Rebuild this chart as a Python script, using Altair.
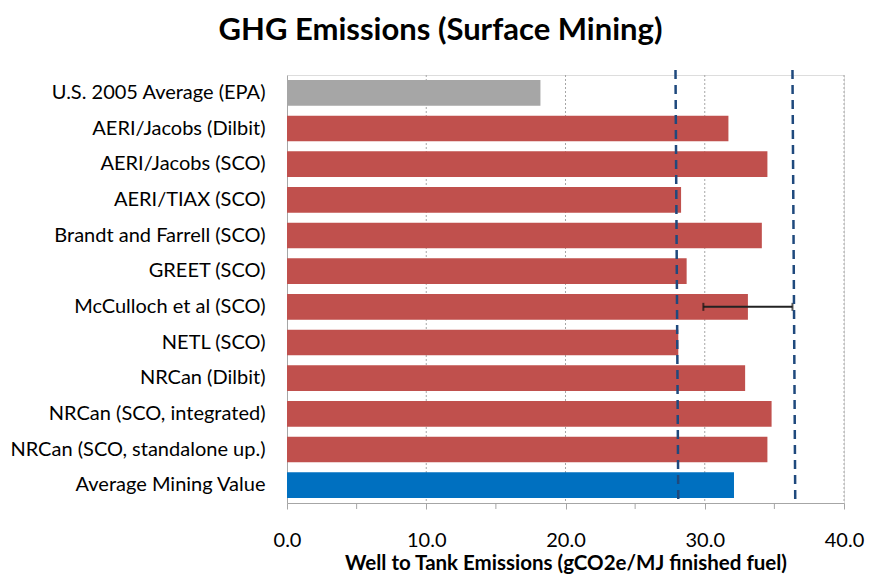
import altair as alt
import pandas as pd

categories = [
    "U.S. 2005 Average (EPA)",
    "AERI/Jacobs (Dilbit)",
    "AERI/Jacobs (SCO)",
    "AERI/TIAX (SCO)",
    "Brandt and Farrell (SCO)",
    "GREET (SCO)",
    "McCulloch et al (SCO)",
    "NETL (SCO)",
    "NRCan (Dilbit)",
    "NRCan (SCO, integrated)",
    "NRCan (SCO, standalone up.)",
    "Average Mining Value",
]
values = [18.2, 31.7, 34.5, 28.3, 34.1, 28.7, 33.1, 28.1, 32.9, 34.8, 34.5, 32.1]
groups = ["base", "study", "study", "study", "study", "study", "study", "study",
          "study", "study", "study", "avg"]

err_category = "McCulloch et al (SCO)"
err_low = 29.9
err_high = 36.3

range_top = [27.9, 36.3]
range_bottom = [28.1, 36.5]

grid_values = [10, 20, 30, 40]
major_ticks = [0, 10, 20, 30, 40]
minor_ticks = [5, 15, 25, 35]

df = pd.DataFrame({"cat": categories, "val": values, "grp": groups})
err_df = pd.DataFrame({"cat": [err_category], "lo": [err_low], "hi": [err_high]})
range_df = pd.DataFrame({"top": range_top, "bottom": range_bottom})
grid_df = pd.DataFrame({"g": grid_values})
minor_df = pd.DataFrame({"m": minor_ticks})

W, H = 557, 428
FONT = "Lato"

xscale = alt.Scale(domain=[0, 40], nice=False, zero=True)
yscale = alt.Scale(paddingInner=0.28, paddingOuter=0.14)
yenc = alt.Y("cat:N", sort=categories, title=None, scale=yscale)

grid = alt.Chart(grid_df).mark_rule(color="#A6A6A6", strokeDash=[2, 2], strokeWidth=1).encode(
    x=alt.X("g:Q", scale=xscale),
    y=alt.value(0),
    y2=alt.value(H),
)

minor = alt.Chart(minor_df).mark_rule(color="#A6A6A6", strokeWidth=1).encode(
    x=alt.X("m:Q", scale=xscale),
    y=alt.value(H),
    y2=alt.value(H + 6),
)

bars = alt.Chart(df).mark_bar().encode(
    x=alt.X("val:Q", scale=xscale,
            axis=alt.Axis(values=major_ticks, format=".1f",
                          grid=False, domainColor="#A6A6A6", tickColor="#A6A6A6",
                          tickSize=6, labelFontSize=20, labelColor="#000000",
                          labelFont=FONT, labelPadding=21, labelFlush=False,
                          title="Well  to Tank Emissions (gCO2e/MJ finished fuel)",
                          titleFont=FONT, titleFontSize=20.5, titleFontWeight="bold",
                          titleColor="#000000", titlePadding=3)),
    y=alt.Y("cat:N", sort=categories, title=None, scale=yscale,
            axis=alt.Axis(domainColor="#A6A6A6", ticks=False, labelFontSize=20,
                          labelFont=FONT, labelColor="#000000", labelPadding=22,
                          labelLimit=400)),
    color=alt.Color("grp:N", scale=alt.Scale(domain=["base", "study", "avg"],
                                            range=["#A6A6A6", "#C0504D", "#0070C0"]),
                    legend=None),
)

err_line = alt.Chart(err_df).mark_rule(color="#222222", strokeWidth=2).encode(
    x=alt.X("lo:Q", scale=xscale), x2="hi:Q", y=yenc
)
err_caps_lo = alt.Chart(err_df).mark_tick(color="#111111", thickness=2, size=8, orient="vertical").encode(
    x=alt.X("lo:Q", scale=xscale), y=yenc
)
err_caps_hi = alt.Chart(err_df).mark_tick(color="#111111", thickness=2, size=8, orient="vertical").encode(
    x=alt.X("hi:Q", scale=xscale), y=yenc
)

ranges = alt.Chart(range_df).mark_rule(color="#1F497D", strokeWidth=2.5, strokeDash=[9, 6]).encode(
    x=alt.X("top:Q", scale=xscale),
    x2="bottom:Q",
    y=alt.value(-5),
    y2=alt.value(H),
)

chart = alt.layer(grid, minor, bars, err_line, err_caps_lo, err_caps_hi, ranges).properties(
    width=W, height=H,
    autosize=alt.AutoSizeParams(type="none"),
    padding={"left": 279, "top": 67, "right": 21, "bottom": 82},
    title=alt.TitleParams("GHG Emissions (Surface Mining)", font=FONT, fontSize=31,
                          fontWeight="bold", color="#000000", anchor="middle",
                          frame="group", dx=-125, offset=22),
).configure_view(stroke=None).configure(background="#FFFFFF")

chart.save("out.html", embed_options={"renderer": "svg", "actions": False})
